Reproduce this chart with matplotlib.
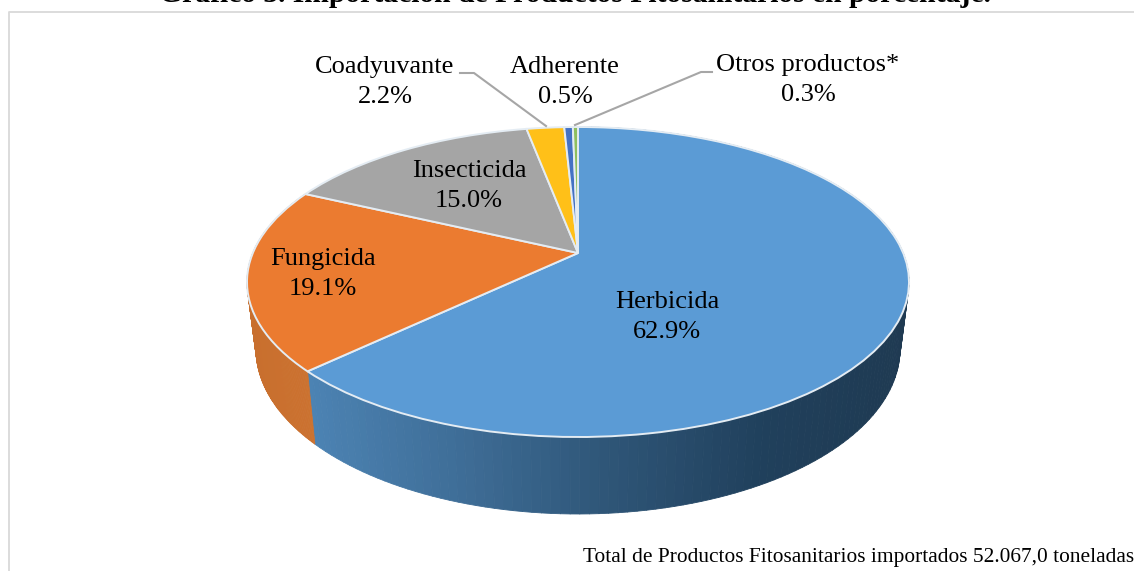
import numpy as np
import matplotlib
matplotlib.use("Agg")
import matplotlib.pyplot as plt
from matplotlib.transforms import Transform
from matplotlib.collections import PolyCollection
from matplotlib.colors import to_rgb

plt.rcParams['font.family'] = ['Liberation Serif', 'DejaVu Serif']

categories = ['Herbicida', 'Fungicida', 'Insecticida', 'Coadyuvante', 'Adherente', 'Otros productos*']
values = [62.9, 19.1, 15.0, 2.2, 0.5, 0.3]
colors = ['#5B9BD5', '#EB7B30', '#A5A5A5', '#FFC018', '#4472C4', '#8FBF5F']
title = 'Gráfico 3. Importación de Productos Fitosanitarios en porcentaje.'
footer = 'Total de Productos Fitosanitarios importados 52.067,0 toneladas'

label_xy = [(667, 317), (323, 274), (469, 186), (385, 82), (565, 82), (808, 80)]

CX, CY, RX, RY = 578, 282, 331, 155
LOW_CY, LOW_RX, LOW_RY = 349, 322, 165
PERSP = 0.187


def project(xy, cy=CY, rx=RX, ry=RY):
    xy = np.asarray(xy, float)
    x, y = xy[..., 0], xy[..., 1]
    d = 1 + PERSP * y
    return np.stack([CX + rx * x * np.sqrt(1 - PERSP ** 2) / d,
                     cy - ry * (y + PERSP) / d], axis=-1)


class Tilt(Transform):
    input_dims = output_dims = 2
    has_inverse = False

    def transform_non_affine(self, values):
        return project(values)


fig = plt.figure(figsize=(11.34, 5.71), dpi=100, facecolor='white')
ax = fig.add_axes([0, 0, 1, 1])

wedges, _ = ax.pie(values, colors=colors, startangle=90, counterclock=False, radius=1,
                   wedgeprops=dict(edgecolor='#E4ECF3', linewidth=1.4))
tilt = Tilt() + ax.transData
for w in wedges:
    w.set_transform(tilt)
    w.set_zorder(3)

ax.set_aspect('auto')
ax.set_xlim(0, 1134)
ax.set_ylim(571, 0)
ax.axis('off')


def wall_colour(px, stops):
    xs, cs = zip(*stops)
    cs = np.array([to_rgb(c) for c in cs])
    return tuple(np.interp(px, xs, cs[:, i]) for i in range(3))


wall_stops = {
    0: [(306, '#4C83B3'), (450, '#3F6E98'), (600, '#2F5678'), (760, '#20405C'), (910, '#1F3A52')],
    1: [(247, '#C86F2E'), (313, '#CC7230')],
}
for i, w in enumerate(wedges[:2]):
    t = np.radians(np.linspace(w.theta1, w.theta2, 161))
    rim = np.column_stack([np.cos(t), np.sin(t)])
    top = project(rim)
    low = project(rim, LOW_CY, LOW_RX, LOW_RY)
    quads = [[top[k], top[k + 1], low[k + 1], low[k]] for k in range(len(t) - 1)]
    cols = [wall_colour(top[k, 0], wall_stops[i]) for k in range(len(t) - 1)]
    ax.add_collection(PolyCollection(quads, facecolors=cols, edgecolors=cols,
                                     linewidths=0.6, zorder=2))
    if i == 0:
        ax.plot([top[-1, 0], low[-1, 0]], [top[-1, 1], low[-1, 1]], color='#E4ECF3',
                lw=1.2, zorder=2.5)

for (name, val), (x, y) in zip(zip(categories, values), label_xy):
    ax.text(x, y, f'{name}\n{val:.1f}%', ha='center', va='center', fontsize=19,
            color='black', linespacing=1.47, zorder=5)

ax.plot([460, 474, 546], [73, 73, 126], color='#A6A6A6', lw=1.5, zorder=4)
ax.plot([575, 701, 712], [125, 72, 72], color='#A6A6A6', lw=1.5, zorder=4)

ax.plot([1134, 8.5, 8.5], [11.5, 11.5, 571], color='#D9D9D9', lw=1.3, zorder=1)

ax.text(575, 2, title, ha='center', va='baseline', fontsize=21.3, fontweight='bold',
        color='black', clip_on=False)
ax.text(1134, 562, footer, ha='right', va='baseline', fontsize=15.4, color='black')

fig.savefig('out.png', dpi=100)
